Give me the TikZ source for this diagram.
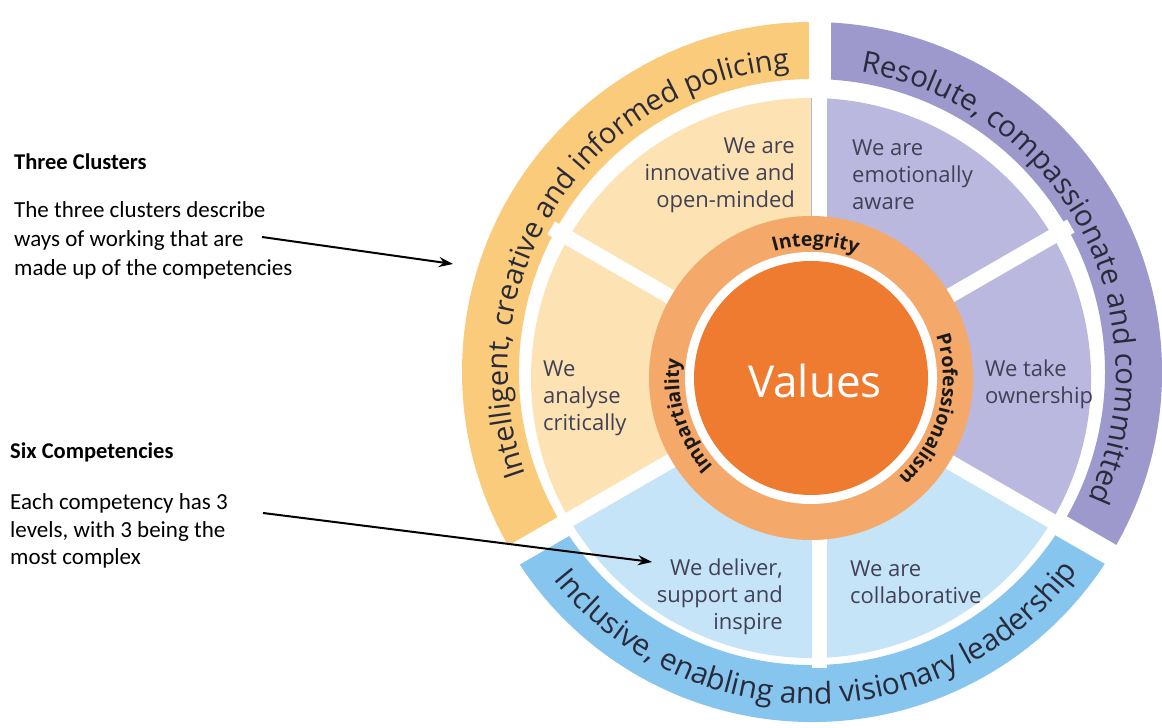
\documentclass[tikz,border=0pt]{standalone}
\usepackage{fontspec}
\setmainfont{Carlito}
\newfontfamily\wheelfont{Open Sans}
\usetikzlibrary{decorations.text, arrows.meta, calc}

\definecolor{yOut}{HTML}{F9CB7B}
\definecolor{yIn}{HTML}{FDE2B4}
\definecolor{pOut}{HTML}{9D99CD}
\definecolor{pIn}{HTML}{BAB8DE}
\definecolor{bOut}{HTML}{86C5EE}
\definecolor{bIn}{HTML}{C6E4F7}
\definecolor{ringOr}{HTML}{F4A869}
\definecolor{valOr}{HTML}{EE7B30}
\definecolor{secTxt}{HTML}{414156}
\definecolor{bandTxt}{HTML}{2A2A3A}

\tikzset{
  sectxt/.style={text=secTxt, font=\wheelfont\fontsize{22}{27}\selectfont, inner sep=0pt},
  gapout/.style={white, line width=22pt},
  gapin/.style={white, line width=15pt},
  annot/.style={font=\fontsize{23}{29}\selectfont, align=left, anchor=west, inner sep=0pt},
  annhead/.style={font=\bfseries\fontsize{22.5}{26}\selectfont, anchor=west, inner sep=0pt},
  pointer/.style={-{Stealth[length=14pt,width=10pt]}, line width=2pt, black},
}

\begin{document}
\begin{tikzpicture}[x=1pt,y=1pt]
\useasboundingbox (0,0) rectangle (1162,728);
\coordinate (C) at (811,350);
\coordinate (O) at (812,356);

% outer cluster bands
\fill[yOut] ([shift={(90:350)}]O) arc[start angle=90,end angle=210,radius=350] -- ([shift={(210:293)}]O) arc[start angle=210,end angle=90,radius=293] -- cycle;
\fill[pOut] ([shift={(-30:350)}]O) arc[start angle=-30,end angle=90,radius=350] -- ([shift={(90:293)}]O) arc[start angle=90,end angle=-30,radius=293] -- cycle;
\fill[bOut] ([shift={(210:350)}]O) arc[start angle=210,end angle=330,radius=350] -- ([shift={(330:293)}]O) arc[start angle=330,end angle=210,radius=293] -- cycle;
\coordinate (gtop0) at (820,350);
\coordinate (gtop1) at (820,728);
\coordinate (gr0) at (812,346);
\coordinate (gl0) at (812,345);
\draw[gapout] (gtop0) -- (gtop1);
\draw[gapout] (gr0) -- ++(330:420);
\draw[gapout] (gl0) -- ++(210:420);

% six competency sectors
\fill[yIn] (C) -- ([shift={(90:280)}]C) arc[start angle=90,end angle=210,radius=280] -- cycle;
\fill[pIn] (C) -- ([shift={(-30:280)}]C) arc[start angle=-30,end angle=90,radius=280] -- cycle;
\fill[bIn] (C) -- ([shift={(210:280)}]C) arc[start angle=210,end angle=330,radius=280] -- cycle;
\coordinate (v0) at (819,60);
\coordinate (v1) at (819,640);
\draw[gapin] (v0) -- (v1);
\draw[gapin] (C) -- ++(150:300);
\draw[gapin] (811,352) -- ++(30:300);
\draw[gapin] (811,346) -- ++(-30:300);
\draw[gapin] (811,348) -- ++(210:300);

% values core
\fill[ringOr] (C) circle[radius=162];
\fill[white] (C) circle[radius=126];
\fill[valOr] (C) circle[radius=117];
\node[text=white, font=\wheelfont\fontsize{44}{50}\selectfont] (values) at (815,347) {Values};

% ring labels
\path[decorate, decoration={text along path, text color=black!90, text align=center,
  text={|\wheelfont\bfseries\fontsize{19.5}{22}\selectfont|Integrity}}]
  ([shift={(160:132)}]C) arc[start angle=160,end angle=16,radius=132];
\path[decorate, decoration={text along path, text color=black!90, text align=center,
  text={|\wheelfont\bfseries\fontsize{19.5}{22}\selectfont|Professionalism}}]
  ([shift={(55:132)}]C) arc[start angle=55,end angle=-85,radius=132];
\path[decorate, decoration={text along path, text color=black!90, text align=center,
  text={|\wheelfont\bfseries\fontsize{19.5}{22}\selectfont|Impartiality}}]
  ([shift={(267:132)}]C) arc[start angle=267,end angle=127,radius=132];

% cluster band texts
\path[decorate, decoration={text along path, text color=bandTxt, text align=center,
  text={|\wheelfont\fontsize{29}{34}\selectfont|Intelligent, creative and informed policing}}]
  ([shift={(217:304)}]O) arc[start angle=217,end angle=77,radius=304];
\path[decorate, decoration={text along path, text color=bandTxt, text align=center,
  text={|\wheelfont\fontsize{29.5}{34}\selectfont|Resolute, compassionate and committed}}]
  ([shift={(98:304)}]O) arc[start angle=98,end angle=-42,radius=304];
\path[decorate, decoration={text along path, text color=bandTxt, text align=center,
  text={|\wheelfont\fontsize{30}{34}\selectfont|Inclusive, enabling and visionary leadership}}]
  ([shift={(201:332)}]O) arc[start angle=201,end angle=341,radius=332];

% competency texts
\node[sectxt, align=right, anchor=east] (innov) at (795,553) {We are\\innovative and\\open-minded};
\node[sectxt, align=left, anchor=west] (emot) at (852,553) {We are\\emotionally\\aware};
\node[sectxt, align=left, anchor=west] (anal) at (543,330) {We\\analyse\\critically};
\node[sectxt, align=left, anchor=west] (own) at (985,344) {We take\\ownership};
\node[sectxt, align=right, anchor=east] (deliv) at (783,131) {We deliver,\\support and\\inspire};
\node[sectxt, align=left, anchor=west] (collab) at (850,146) {We are\\collaborative};

% annotations
\node[annhead] (h1) at (14,566) {Three Clusters};
\node[annot] (p1) at (14,488) {The three clusters describe\\ways of working that are\\made up of the competencies};
\node[annhead] (h2) at (10,276) {Six Competencies};
\node[annot, font=\fontsize{23}{27.5}\selectfont] (p2) at (10,197) {Each competency has 3\\levels, with 3 being the\\most complex};
\coordinate (a1s) at (262,491);
\coordinate (a1e) at (453,464);
\coordinate (a2s) at (263,215);
\coordinate (a2e) at (652,166);
\draw[pointer] (a1s) -- (a1e);
\draw[pointer] (a2s) -- (a2e);
\end{tikzpicture}
\end{document}
